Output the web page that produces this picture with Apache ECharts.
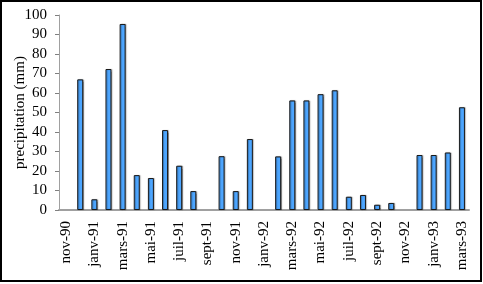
<!DOCTYPE html>
<html>
<head>
<meta charset="utf-8">
<script src="https://cdn.jsdelivr.net/npm/echarts@6/dist/echarts.min.js"></script>
<style>
html,body{margin:0;padding:0;background:#fff;}
#c{width:483px;height:284px;}
</style>
</head>
<body>
<div id="c"></div>
<script>
var categories = ['nov-90','déc-90','janv-91','févr-91','mars-91','avr-91','mai-91','juin-91','juil-91','août-91','sept-91','oct-91','nov-91','déc-91','janv-92','févr-92','mars-92','avr-92','mai-92','juin-92','juil-92','août-92','sept-92','oct-92','nov-92','déc-92','janv-93','févr-93','mars-93'];
var precipitation = [null,67,5.5,72.3,95.4,17.9,16.4,41,22.7,9.7,null,27.6,9.7,36.4,null,27.5,56.2,56.2,59.4,61.4,6.8,7.7,2.7,3.6,null,28.2,28.2,29.5,52.7];
var yTicks = {min:0, max:100, interval:10};

var chart = echarts.init(document.getElementById('c'), null, {renderer:'canvas'});
var font = "'Liberation Serif', 'Times New Roman', serif";
chart.setOption({
  animation:false,
  backgroundColor:'#fff',
  textStyle:{fontFamily:font},
  graphic:[{type:'rect', shape:{x:1,y:1,width:480,height:280}, style:{fill:'none', stroke:'#000', lineWidth:2}, z:100}],
  grid:{left:59, right:14, top:15, bottom:74, containLabel:false, outerBoundsMode:'none'},
  xAxis:{
    type:'category',
    data:categories,
    axisLine:{lineStyle:{color:'#a0a0a0', width:2}},
    axisTick:{interval:1, length:4, lineStyle:{color:'#808080'}},
    axisLabel:{interval:1, rotate:90, margin:11, color:'#000', fontFamily:font, fontSize:15}
  },
  yAxis:{
    type:'value',
    min:yTicks.min, max:yTicks.max, interval:yTicks.interval,
    name:'precipitation (mm)',
    nameLocation:'middle',
    nameGap:31,
    nameMoveOverlap:false,
    nameTextStyle:{color:'#000', fontFamily:font, fontSize:15},
    axisLine:{show:true, lineStyle:{color:'#a0a0a0', width:1}},
    axisTick:{show:true, length:4, lineStyle:{color:'#808080'}},
    axisLabel:{color:'#000', fontFamily:font, fontSize:15, margin:12},
    splitLine:{show:false}
  },
  series:[{
    type:'bar',
    data:precipitation,
    barWidth:6,
    itemStyle:{color:'#4da6ff', borderColor:'#1a1a1a', borderWidth:1,
      shadowColor:'rgba(0,0,0,0.3)', shadowOffsetX:1, shadowOffsetY:0, shadowBlur:1}
  }]
});
</script>
</body>
</html>
